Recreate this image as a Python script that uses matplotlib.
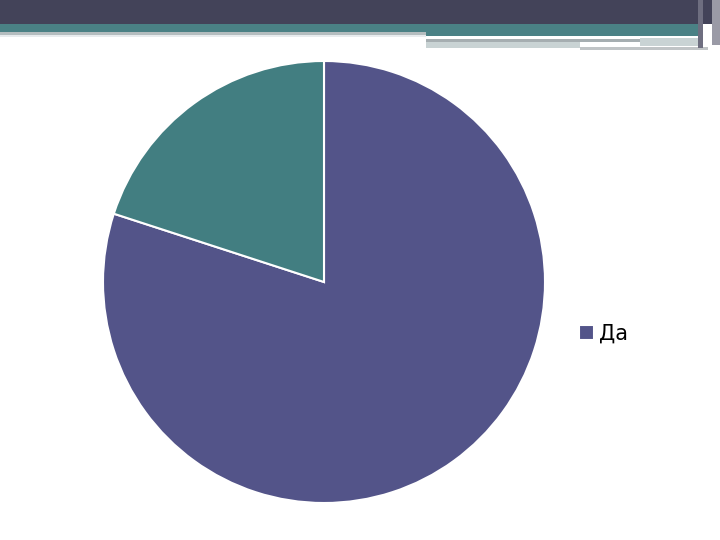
import matplotlib.pyplot as plt
from matplotlib.patches import Rectangle

labels = ["Да", "Нет"]
values = [80, 20]
colors = ["#535489", "#427E81"]

W, H = 720, 540
fig = plt.figure(figsize=(7.2, 5.4), dpi=100)


def band(x0, y0, x1, y1, color):
    # pixel coords from top-left
    fig.patches.append(Rectangle((x0 / W, 1 - y1 / H), (x1 - x0) / W, (y1 - y0) / H,
                                 transform=fig.transFigure, color=color, lw=0, zorder=0))


# slide header decoration
band(0, 0, 720, 24, "#434359")
band(0, 24, 426, 32, "#4A8185")
band(0, 32, 426, 35, "#B4BDBF")
band(0, 35, 426, 37, "#E8ECEE")
band(426, 24, 700, 36, "#4A8185")
band(426, 39, 666, 42, "#A6AEB1")
band(426, 42, 580, 48, "#C9D3D4")
band(580, 47, 708, 50, "#C0C4C6")
band(640, 38, 700, 46, "#C9D3D4")
band(698, 0, 703, 48, "#6E6E80")
band(712, 0, 720, 45, "#9A9AA6")

cx, cy, r = 324, 282, 221
ax = fig.add_axes([(cx - r) / W, 1 - (cy + r) / H, 2 * r / W, 2 * r / H])
wedges, _ = ax.pie(values, colors=colors, startangle=90, counterclock=False,
                   wedgeprops=dict(edgecolor="white", linewidth=1.5))
ax.set_xlim(-1, 1)
ax.set_ylim(-1, 1)
ax.axis("off")

fig.legend([wedges[0]], [labels[0]], loc="center left", bbox_to_anchor=(579 / W, 1 - 334 / H),
           frameon=False, fontsize=15, handlelength=0.7, handleheight=0.7,
           handletextpad=0.25, borderpad=0, borderaxespad=0)

fig.savefig("out.png", dpi=100)
